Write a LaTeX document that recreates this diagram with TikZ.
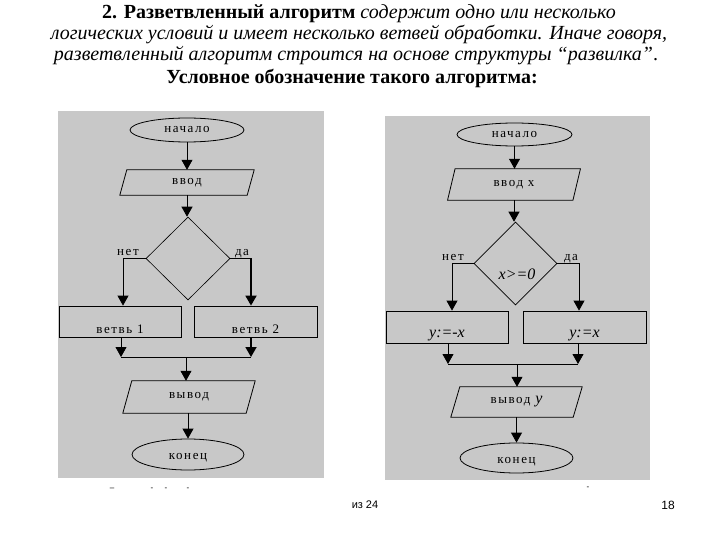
\documentclass[tikz,border=0pt]{standalone}
\usepackage{fontspec}
\setmainfont{Liberation Serif}
\setsansfont{Liberation Sans}
\newfontfamily\chartfont[LetterSpace=12]{Liberation Serif}
\usetikzlibrary{shapes.geometric,arrows.meta}
\definecolor{panelgray}{RGB}{200,200,200}
\newcommand{\vit}[1]{{\rmfamily\itshape\fontsize{16}{16}\selectfont #1}}
\begin{document}
\begin{tikzpicture}[x=1pt,y=-1pt,
  panel/.style={fill=panelgray,draw=none},
  chart/.style={font=\chartfont\fontsize{13}{13}\selectfont},
  term/.style={ellipse,draw,line width=0.8pt,inner sep=0pt,chart},
  iobox/.style={rectangle,inner sep=0pt,chart},
  pline/.style={draw,line width=0.8pt},
  proc/.style={rectangle,draw,line width=0.8pt,inner sep=0pt,chart},
  decis/.style={diamond,draw,line width=0.6pt,inner sep=0pt,aspect=1},
  arr/.style={-{Triangle[width=11pt,length=10pt]},line width=0.8pt},
  thickarr/.style={-{Triangle[width=11pt,length=10pt]},line width=1.8pt},
  lbl/.style={chart,anchor=base,inner sep=0pt},
  ttl/.style={anchor=base,inner sep=0pt,font=\fontsize{20}{20}\selectfont},
  mathit/.style={font=\itshape\fontsize{16}{16}\selectfont}
]
\useasboundingbox (0,0) rectangle (720,540);
\fill[white] (0,0) rectangle (720,540);

% title
\node[ttl] (t1) at (359,19) {\textbf{2. Разветвленный алгоритм} \textit{содержит одно или несколько}};
\node[ttl] (t2) at (359,40) {\textit{логических условий и имеет несколько ветвей обработки. Иначе говоря,}};
\node[ttl] (t3) at (356,61) {\textit{разветвленный алгоритм строится на основе структуры “развилка”}.};
\node[ttl] (t4) at (352,84) {\textbf{Условное обозначение такого алгоритма:}};

% panels
\fill[panel] (58,111) rectangle (324,478);
\fill[panel] (385,116) rectangle (650,480);

% ---------- left chart ----------
\node[term,minimum width=114pt,minimum height=24pt] (start1) at (187,130) {начало};
\node[iobox,minimum width=127pt,minimum height=25pt] (in1) at (187,182.5) {ввод};
\draw[pline] ([xshift=3.5pt]in1.north west) -- ([xshift=3.5pt]in1.north east) -- ([xshift=-3.5pt]in1.south east) -- ([xshift=-3.5pt]in1.south west) -- cycle;
\node[decis,minimum width=84pt,minimum height=83pt] (dec1) at (188,258.5) {};
\node[proc,minimum width=122pt,minimum height=31pt] (b1) at (120,321.5) {\raisebox{-12pt}[0pt][0pt]{ветвь 1}};
\node[proc,minimum width=123pt,minimum height=31pt] (b2) at (255.5,321.5) {\raisebox{-12pt}[0pt][0pt]{ветвь 2}};
\coordinate (j1) at (186,357);
\node[iobox,minimum width=123pt,minimum height=32pt] (out1) at (189,397) {вывод};
\draw[pline] ([xshift=4.5pt]out1.north west) -- ([xshift=4.5pt]out1.north east) -- ([xshift=-4.5pt]out1.south east) -- ([xshift=-4.5pt]out1.south west) -- cycle;
\node[term,minimum width=112pt,minimum height=31pt] (end1) at (188,454.5) {\raisebox{-5pt}[0pt][0pt]{конец}};
\node[lbl] (no1) at (128,255) {нет};
\node[lbl] (yes1) at (242,255) {да};

\draw[arr] (start1.south) -- (in1.north);
\draw[arr] (in1.south) -- (in1.south |- dec1.north);
\draw[arr] (dec1.west) -| ([xshift=3pt]b1.north);
\draw[thickarr] (dec1.east) -| ([xshift=-4.5pt]b2.north);
\draw[arr] ([xshift=1pt]b1.south) -- ([xshift=1pt]b1.south |- j1);
\draw[thickarr] ([xshift=-4.5pt]b2.south) -- ([xshift=-4.5pt]b2.south |- j1);
\draw[line width=0.8pt] ([xshift=1pt]b1.south |- j1) -- ([xshift=-4.5pt]b2.south |- j1);
\draw[arr] (j1) -- (j1 |- out1.north);
\draw[arr] (end1.north |- out1.south) -- (end1.north);

% ---------- right chart ----------
\node[term,minimum width=115pt,minimum height=23pt] (start2) at (514.5,134.5) {начало};
\node[iobox,minimum width=125pt,minimum height=31pt] (in2) at (514,184.5) {ввод x};
\draw[pline] ([xshift=3.75pt]in2.north west) -- ([xshift=3.75pt]in2.north east) -- ([xshift=-3.75pt]in2.south east) -- ([xshift=-3.75pt]in2.south west) -- cycle;
\node[decis,minimum width=83pt,minimum height=83pt] (dec2) at (515.5,263.5) {};
\node[mathit,inner sep=0pt] (cond) at (517,274) {x>=0};
\node[proc,minimum width=122pt,minimum height=32pt] (b3) at (447,327) {\raisebox{-10pt}[0pt][0pt]{\vit{y:=-x}}};
\node[proc,minimum width=123pt,minimum height=32pt] (b4) at (584.5,327) {\raisebox{-10pt}[0pt][0pt]{\vit{y:=x}}};
\coordinate (j2) at (517,364);
\node[iobox,minimum width=122pt,minimum height=30pt] (out2) at (516.5,402) {вывод \vit{y}};
\draw[pline] ([xshift=4.5pt]out2.north west) -- ([xshift=4.5pt]out2.north east) -- ([xshift=-4.5pt]out2.south east) -- ([xshift=-4.5pt]out2.south west) -- cycle;
\node[term,minimum width=113pt,minimum height=30pt] (end2) at (516.5,458) {\raisebox{-5pt}[0pt][0pt]{конец}};
\node[lbl] (no2) at (453,260) {нет};
\node[lbl] (yes2) at (571,260) {да};

\draw[arr] (start2.south) -- (start2.south |- in2.north);
\draw[arr] (in2.south) -- (in2.south |- dec2.north);
\draw[arr] (dec2.west) -| ([xshift=5pt]b3.north);
\draw[arr] (dec2.east) -| ([xshift=-5.5pt]b4.north);
\draw[arr] ([xshift=1pt]b3.south) -- ([xshift=1pt]b3.south |- j2);
\draw[arr] ([xshift=-6.5pt]b4.south) -- ([xshift=-6.5pt]b4.south |- j2);
\draw[line width=0.8pt] ([xshift=1pt]b3.south |- j2) -- ([xshift=-6.5pt]b4.south |- j2);
\draw[arr] (j2) -- (j2 |- out2.north);
\draw[arr] (out2.south) -- (out2.south |- end2.north);

% footer
\node[font=\sffamily\fontsize{11}{11}\selectfont,inner sep=0pt] (pg) at (365,505) {из 24};
\node[font=\sffamily\fontsize{12}{12}\selectfont,inner sep=0pt] (num) at (668,505) {18};
\node[font=\sffamily\fontsize{8}{8}\selectfont,inner sep=0pt] (d1) at (112,489) {–};
\node[font=\sffamily\fontsize{8}{8}\selectfont,inner sep=0pt] (d2) at (152,489) {-};
\node[font=\sffamily\fontsize{8}{8}\selectfont,inner sep=0pt] (d3) at (166,489) {-};
\node[font=\sffamily\fontsize{8}{8}\selectfont,inner sep=0pt] (d4) at (188,489) {-};
\node[font=\sffamily\fontsize{8}{8}\selectfont,inner sep=0pt] (d5) at (588,488) {-};
\end{tikzpicture}
\end{document}
